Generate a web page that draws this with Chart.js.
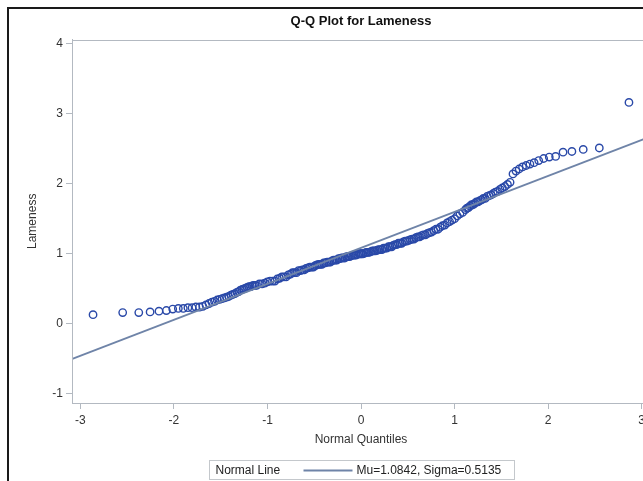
<!DOCTYPE html>
<html>
<head>
<meta charset="utf-8">
<title>Q-Q Plot for Lameness</title>
<script src="https://cdn.jsdelivr.net/npm/chart.js@4.4.0/dist/chart.umd.min.js"></script>
<style>
  html, body { margin: 0; padding: 0; background: #fff; overflow: hidden; }
  #wrap { position: relative; width: 643px; height: 481px; overflow: hidden; }
  #frame { position: absolute; left: 7px; top: 7px; width: 700px; height: 500px;
           border-left: 2px solid #1a1a1a; border-top: 2px solid #1a1a1a; pointer-events: none; }
  #qq { position: absolute; left: 0; top: 0; }
</style>
</head>
<body>
<div id="wrap">
  <canvas id="qq" width="690" height="481"></canvas>
  <div id="frame"></div>
</div>
<script>
// normal quantiles (x) and sorted lameness values (y)
const quantiles = [
  -2.865, -2.548, -2.376, -2.255, -2.160, -2.081, -2.013, -1.953, -1.900, -1.851,
  -1.806, -1.766, -1.727, -1.691, -1.657, -1.625, -1.594, -1.566, -1.538, -1.511,
  -1.486, -1.461, -1.437, -1.414, -1.391, -1.370, -1.349, -1.328, -1.308, -1.289,
  -1.270, -1.252, -1.234, -1.216, -1.199, -1.182, -1.165, -1.149, -1.133,
  -1.117, -1.087, -1.058, -1.029, -1.001, -0.973, -0.947, -0.921, -0.896, -0.871,
  -0.847, -0.824, -0.801, -0.777, -0.754, -0.732, -0.711, -0.689, -0.668, -0.647,
  -0.627, -0.607, -0.587, -0.567, -0.547, -0.528, -0.509, -0.490, -0.472, -0.453,
  -0.435, -0.417, -0.399, -0.381, -0.363, -0.345, -0.328, -0.310, -0.293, -0.275,
  -0.258, -0.241, -0.224, -0.206, -0.189, -0.172, -0.155, -0.138, -0.122, -0.105,
  -0.088, -0.071, -0.055, -0.038, -0.021, -0.004,
  0.004, 0.021, 0.038, 0.055, 0.071, 0.088, 0.105, 0.122, 0.138, 0.155,
  0.172, 0.189, 0.206, 0.224, 0.241, 0.258, 0.275, 0.293, 0.310, 0.328,
  0.345, 0.363, 0.381, 0.399, 0.417, 0.435, 0.453, 0.472, 0.490, 0.509,
  0.528, 0.547, 0.567, 0.587, 0.607, 0.627, 0.647, 0.668, 0.689, 0.711,
  0.732, 0.754, 0.777, 0.801, 0.824, 0.847, 0.871, 0.896, 0.921, 0.947,
  0.973, 1.001, 1.029, 1.058, 1.087, 1.117,
  1.133, 1.149, 1.165, 1.182, 1.199, 1.216, 1.234, 1.252, 1.270, 1.289,
  1.308, 1.328, 1.349, 1.370, 1.391, 1.414, 1.437, 1.461, 1.486,
  1.511, 1.538, 1.566, 1.594, 1.625, 1.657, 1.691, 1.727, 1.766, 1.806,
  1.851, 1.900, 1.953, 2.013, 2.081, 2.160, 2.255, 2.376, 2.548, 2.865
];
const lameness = [
  0.13, 0.16, 0.16, 0.17, 0.18, 0.19, 0.21, 0.22, 0.22, 0.23,
  0.23, 0.24, 0.24, 0.25, 0.27, 0.29, 0.31, 0.32, 0.34, 0.35,
  0.36, 0.37, 0.38, 0.39, 0.41, 0.42, 0.43, 0.45, 0.46, 0.48,
  0.49, 0.50, 0.51, 0.52, 0.53, 0.53, 0.54, 0.55, 0.55,
  0.55, 0.57, 0.57, 0.58, 0.60, 0.61, 0.61, 0.61, 0.64, 0.65,
  0.67, 0.67, 0.67, 0.70, 0.71, 0.73, 0.73, 0.73, 0.76, 0.76,
  0.77, 0.77, 0.79, 0.80, 0.81, 0.81, 0.81, 0.83, 0.84, 0.85,
  0.85, 0.85, 0.87, 0.87, 0.88, 0.88, 0.88, 0.90, 0.91, 0.91,
  0.91, 0.93, 0.93, 0.94, 0.94, 0.94, 0.96, 0.96, 0.96, 0.97,
  0.98, 0.98, 0.98, 0.99, 1.00, 1.00,
  1.00, 1.00, 1.01, 1.02, 1.02, 1.02, 1.03, 1.04, 1.04, 1.04,
  1.05, 1.06, 1.06, 1.06, 1.08, 1.08, 1.08, 1.10, 1.10, 1.10,
  1.12, 1.13, 1.13, 1.15, 1.15, 1.15, 1.17, 1.18, 1.18, 1.19,
  1.20, 1.21, 1.21, 1.23, 1.24, 1.24, 1.26, 1.27, 1.27, 1.29,
  1.30, 1.31, 1.33, 1.35, 1.35, 1.38, 1.40, 1.41, 1.44, 1.46,
  1.48, 1.50, 1.54, 1.57, 1.59, 1.63,
  1.65, 1.66, 1.68, 1.70, 1.70, 1.72, 1.74, 1.74, 1.76, 1.77,
  1.79, 1.79, 1.82, 1.83, 1.84, 1.86, 1.88, 1.89, 1.92,
  1.94, 1.96, 1.99, 2.02, 2.14, 2.18, 2.21, 2.24, 2.26, 2.28,
  2.30, 2.33, 2.36, 2.38, 2.39, 2.45, 2.46, 2.49, 2.51, 3.16
];

// fitted normal line
const mu = 1.0842;
const sigma = 0.5135;
const lineEnds = [-3.3, 3.3];

const xTicks = [-3, -2, -1, 0, 1, 2, 3];
const yTicks = [-1, 0, 1, 2, 3, 4];

const fontFam = '"Liberation Sans", Arial, sans-serif';
const axisColor = "#b3b9c1";
const markerColor = "#2a49a8";
const fitColor = "#6f84a8";

var points = quantiles.map(function (q, i) {
  return { x: q, y: lameness[i] };
});
var fitLine = lineEnds.map(function (q) {
  return { x: q, y: mu + sigma * q };
});

// plot frame + SAS style legend box
const framePlugin = {
  id: "frame",
  afterDraw(chart) {
    const ctx = chart.ctx;
    const a = chart.chartArea;
    ctx.save();
    ctx.strokeStyle = axisColor;
    ctx.lineWidth = 1;
    ctx.strokeRect(Math.round(a.left) + 0.5, Math.round(a.top) + 0.5,
      Math.round(a.right - a.left), Math.round(a.bottom - a.top));

    // legend
    const cx = (a.left + a.right) / 2;
    const bx = Math.round(cx - 152) + 0.5;
    const by = 460.5;
    ctx.strokeStyle = "#c4c8cc";
    ctx.strokeRect(bx, by, 305, 19);
    ctx.font = "12px " + fontFam;
    ctx.fillStyle = "#222";
    ctx.textBaseline = "middle";
    ctx.fillText("Normal Line", bx + 6, by + 10);
    ctx.strokeStyle = fitColor;
    ctx.lineWidth = 2;
    ctx.beginPath();
    ctx.moveTo(bx + 94, by + 10);
    ctx.lineTo(bx + 143, by + 10);
    ctx.stroke();
    ctx.fillText("Mu=" + mu.toFixed(4) + ", Sigma=" + sigma.toFixed(4), bx + 147, by + 10);
    ctx.restore();
  },
};

var ctx = document.getElementById("qq").getContext("2d");
var qqChart = new Chart(ctx, {
  type: "scatter",
  data: {
    datasets: [
      {
        label: "Normal Line",
        data: fitLine,
        showLine: true,
        borderColor: fitColor,
        borderWidth: 2,
        pointRadius: 0,
        fill: false,
      },
      {
        label: "Lameness",
        data: points,
        pointStyle: "circle",
        pointRadius: 3.7,
        pointBorderWidth: 1.4,
        pointBorderColor: markerColor,
        pointBackgroundColor: "rgba(0,0,0,0)",
        borderColor: markerColor,
        backgroundColor: "rgba(0,0,0,0)",
      },
    ],
  },
  options: {
    responsive: false,
    animation: false,
    layout: { padding: { left: 10, top: 10, right: 40, bottom: 0 } },
    plugins: {
      legend: { display: false },
      tooltip: { enabled: false },
      title: {
        display: true,
        fullSize: false,
        text: "Q-Q Plot for Lameness",
        color: "#111",
        font: { family: fontFam, size: 13, weight: "bold" },
        padding: { top: 4, bottom: 10 },
      },
    },
    scales: {
      x: {
        type: "linear",
        min: -3.09,
        max: 3.09,
        afterFit: function (s) { s.height = 78; },
        afterBuildTicks: function (s) {
          s.ticks = xTicks.map(function (v) { return { value: v }; });
        },
        grid: { drawOnChartArea: false, tickLength: 6, color: axisColor },
        border: { color: axisColor },
        ticks: { color: "#333", padding: 4, font: { family: fontFam, size: 12 } },
        title: {
          display: true,
          text: "Normal Quantiles",
          color: "#333",
          font: { family: fontFam, size: 12 },
          padding: { top: 0, bottom: 34 },
        },
      },
      y: {
        type: "linear",
        min: -1.13,
        max: 4.057,
        afterFit: function (s) { s.width = 62; },
        afterBuildTicks: function (s) {
          s.ticks = yTicks.map(function (v) { return { value: v }; });
        },
        grid: { drawOnChartArea: false, tickLength: 6, color: axisColor },
        border: { color: axisColor },
        ticks: { color: "#333", padding: 3, font: { family: fontFam, size: 12 } },
        title: {
          display: true,
          text: "Lameness",
          color: "#333",
          font: { family: fontFam, size: 12 },
          padding: { top: 15, bottom: 0 },
        },
      },
    },
  },
  plugins: [framePlugin],
});
</script>
</body>
</html>
